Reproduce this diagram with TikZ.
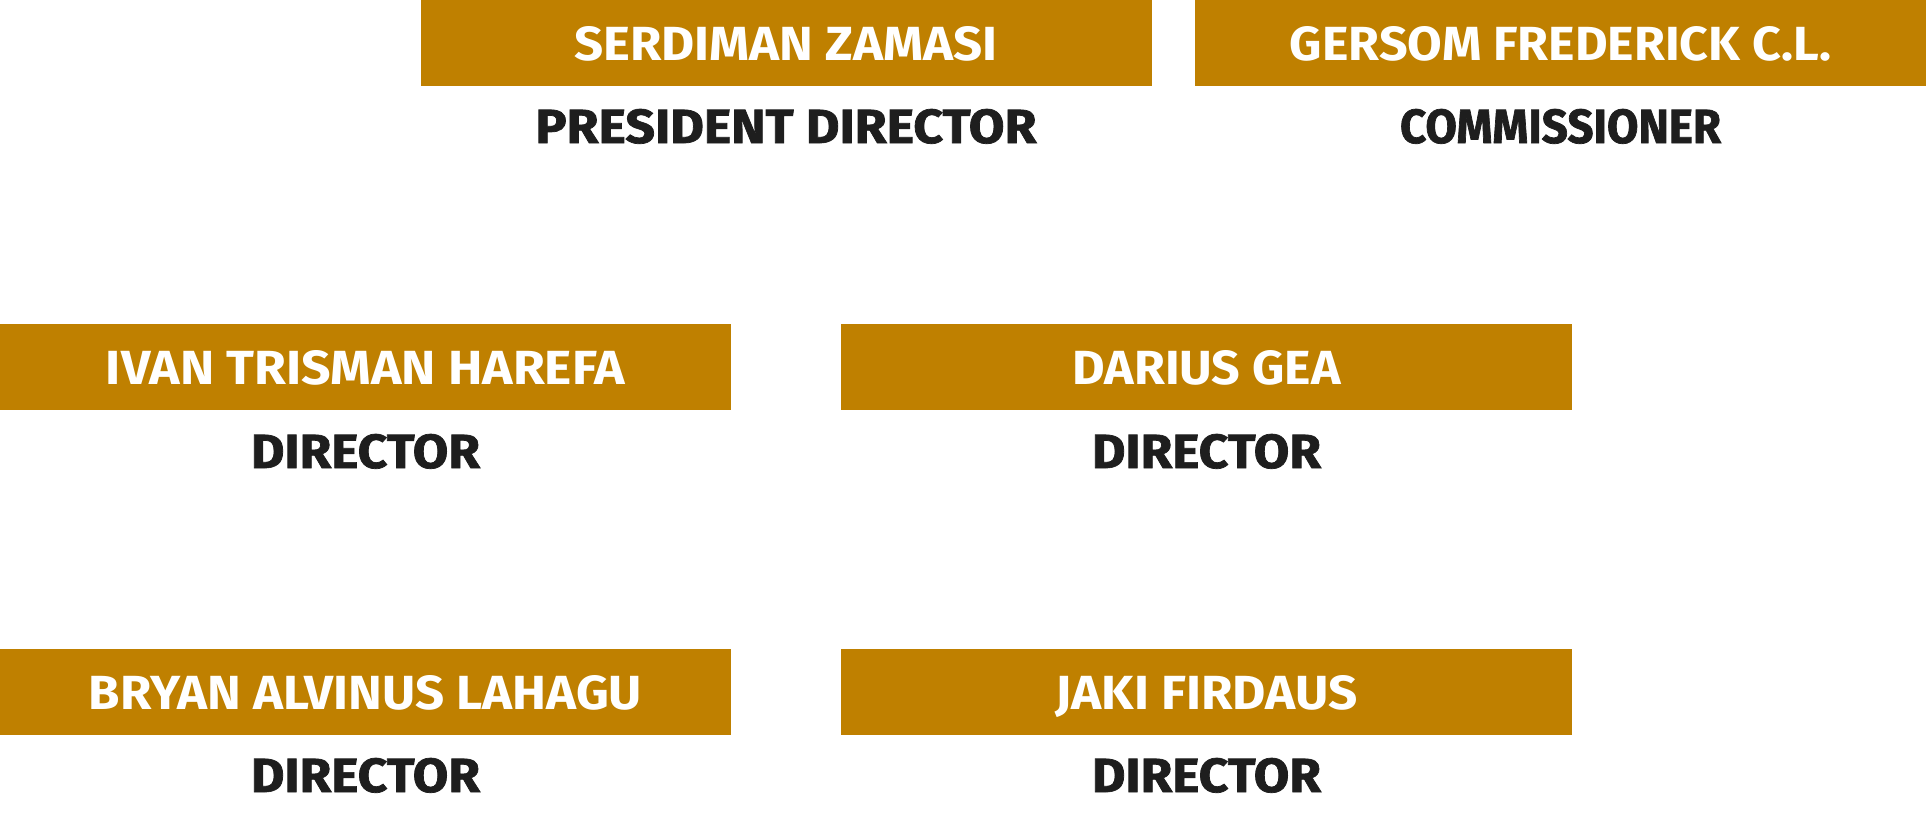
\documentclass[tikz,border=0pt]{standalone}
\usepackage{fontspec}
\setmainfont{Fira Sans}
\usepackage{graphicx}
\definecolor{gold}{HTML}{BF8000}
\definecolor{ink}{HTML}{1E1E1E}
\newcommand{\fitw}[2]{\raisebox{0pt}[34pt][0pt]{\resizebox{#1}{34pt}{#2}}}
\tikzset{
  namebox/.style={fill=gold, draw=none, minimum width=731pt, minimum height=86pt, inner sep=0pt, text=white, font=\bfseries},
  rolelabel/.style={inner sep=0pt, text=ink, font=\bfseries\addfontfeatures{FakeBold=1.5}}
}
\begin{document}
\begin{tikzpicture}[x=1pt,y=-1pt]
\useasboundingbox (0,0) rectangle (1927,822);
\node[namebox] (serdiman) at (786,43) {\fitw{423pt}{SERDIMAN ZAMASI}};
\node[rolelabel] (serdimanrole) at (786,126) {\fitw{501pt}{PRESIDENT DIRECTOR}};
\node[namebox] (gersom) at (1560.5,43) {\fitw{541pt}{GERSOM FREDERICK C.L.}};
\node[rolelabel] (gersomrole) at (1560.5,126) {\fitw{321pt}{COMMISSIONER}};
\node[namebox] (ivan) at (365.5,367) {\fitw{519pt}{IVAN TRISMAN HAREFA}};
\node[rolelabel] (ivanrole) at (365.5,451) {\fitw{229pt}{DIRECTOR}};
\node[namebox] (darius) at (1206.5,367) {\fitw{268pt}{DARIUS GEA}};
\node[rolelabel] (dariusrole) at (1206.5,451) {\fitw{229pt}{DIRECTOR}};
\node[namebox] (bryan) at (365.5,692) {\fitw{553pt}{BRYAN ALVINUS LAHAGU}};
\node[rolelabel] (bryanrole) at (365.5,775) {\fitw{229pt}{DIRECTOR}};
\node[namebox] (jaki) at (1206.5,692) {\fitw{302pt}{JAKI FIRDAUS}};
\node[rolelabel] (jakirole) at (1206.5,775) {\fitw{229pt}{DIRECTOR}};
\end{tikzpicture}
\end{document}
